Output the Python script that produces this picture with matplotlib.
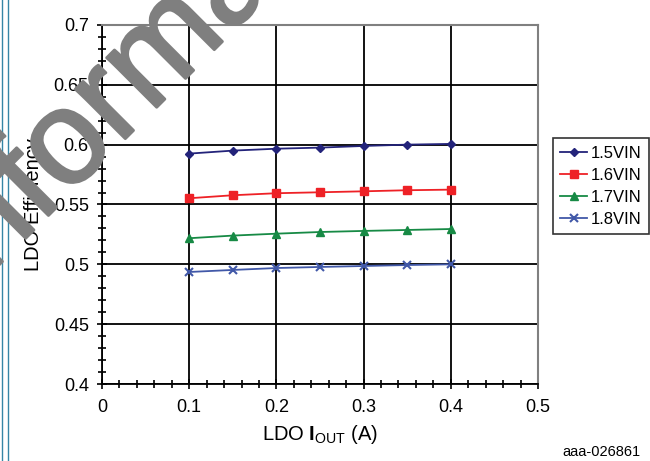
import matplotlib
matplotlib.use('Agg')
import matplotlib.pyplot as plt
import matplotlib.patheffects as pe
from matplotlib.ticker import MultipleLocator

plt.rcParams['font.family'] = ['Liberation Sans', 'DejaVu Sans']
plt.rcParams['mathtext.fontset'] = 'custom'
plt.rcParams['mathtext.rm'] = 'Liberation Sans'
plt.rcParams['mathtext.bf'] = 'Liberation Sans:bold'
plt.rcParams['mathtext.default'] = 'regular'

# Данные
i_out = [0.1, 0.15, 0.2, 0.25, 0.3, 0.35, 0.4]
eff_15 = [0.5925, 0.595, 0.5966, 0.5975, 0.5989, 0.6, 0.6006]
eff_16 = [0.5552, 0.5577, 0.5594, 0.5602, 0.561, 0.5619, 0.5624]
eff_17 = [0.5218, 0.524, 0.5256, 0.527, 0.5279, 0.5287, 0.5295]
eff_18 = [0.4936, 0.4953, 0.4969, 0.4978, 0.4986, 0.4994, 0.5]
series_names = ['1.5VIN', '1.6VIN', '1.7VIN', '1.8VIN']
x_ticks = [0, 0.1, 0.2, 0.3, 0.4, 0.5]
x_tick_labels = ['0', '0.1', '0.2', '0.3', '0.4', '0.5']
y_ticks = [0.4, 0.45, 0.5, 0.55, 0.6, 0.65, 0.7]
y_tick_labels = ['0.4', '0.45', '0.5', '0.55', '0.6', '0.65', '0.7']

fig = plt.figure(figsize=(6.5, 4.61), dpi=100)
ax = fig.add_axes([0.1569, 0.167, 0.6708, 0.7789])

ax.plot(i_out, eff_15, color='#23237a', marker='D', markersize=4, lw=1.3, label=series_names[0])
ax.plot(i_out, eff_16, color='#ee2126', marker='s', markersize=6, lw=1.3, label=series_names[1])
ax.plot(i_out, eff_17, color='#178a45', marker='^', markersize=6, lw=1.3, label=series_names[2])
ax.plot(i_out, eff_18, color='#4158a8', marker='x', markersize=6, mew=1.5, lw=1.3, label=series_names[3])

ax.set_xlim(0, 0.5)
ax.set_ylim(0.4, 0.7)
ax.xaxis.set_minor_locator(MultipleLocator(0.02))
ax.yaxis.set_minor_locator(MultipleLocator(0.01))
ax.set_xticks(x_ticks, x_tick_labels)
ax.set_yticks(y_ticks, y_tick_labels)

ax.grid(True, which='major', color='black', lw=1.3)
ax.set_axisbelow(True)
ax.tick_params(which='both', direction='inout', color='black', width=1.2, labelsize=13)
ax.tick_params(which='major', length=7)
ax.tick_params(which='minor', length=6)
ax.tick_params(axis='y', pad=6)
ax.tick_params(axis='x', pad=7)
for side in ['left', 'bottom']:
    ax.spines[side].set_color('black')
    ax.spines[side].set_linewidth(1.3)
for side in ['top', 'right']:
    ax.spines[side].set_color('#808080')
    ax.spines[side].set_linewidth(1.5)

ax.set_xlabel(r'LDO $\mathbf{I}_{OUT}$ (A)', fontsize=14.5, labelpad=5)
ax.set_ylabel('LDO Efficiency', fontsize=14.5, labelpad=8)

leg = ax.legend(loc='center left', bbox_to_anchor=(1.034, 0.551), fontsize=12,
                frameon=True, fancybox=False, handlelength=1.6, handletextpad=0.25,
                borderpad=0.45, labelspacing=0.42, borderaxespad=0)
leg.get_frame().set_edgecolor('black')
leg.get_frame().set_linewidth(1.2)

fig.text(0.985, 0.0098, 'aaa-026861', ha='right', va='baseline', fontsize=10.5)

# Линии слева
for x in [1.7 / 650, 8.3 / 650]:
    fig.add_artist(plt.Line2D([x, x], [0, 1], color='#3585a5', lw=1, transform=fig.transFigure))

# Водяной знак
fig.text(200 / 650, 1 - 64 / 461, 'information', fontsize=96, color='#7f7f7f',
         rotation=45, ha='center', va='baseline', rotation_mode='anchor', zorder=10,
         path_effects=[pe.withStroke(linewidth=2, foreground='#7f7f7f')])

plt.savefig('out.png', dpi=100)
plt.close()
